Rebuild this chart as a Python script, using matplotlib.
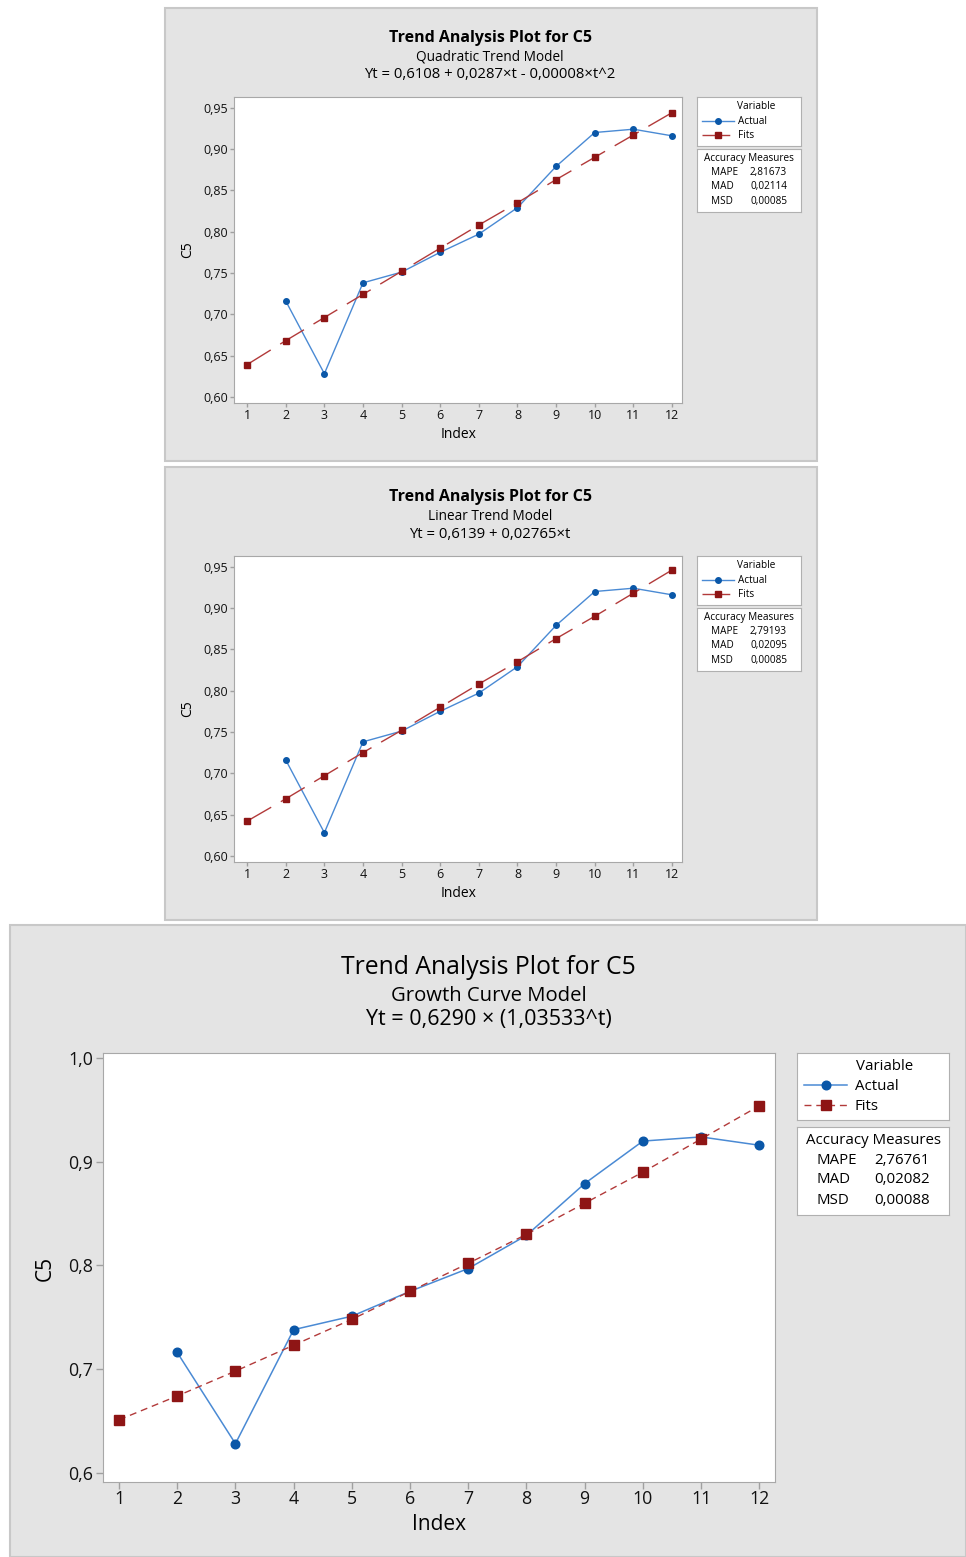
import matplotlib
matplotlib.use('Agg')
import matplotlib.pyplot as plt
from matplotlib.patches import Rectangle
import numpy as np

plt.rcParams['font.family'] = ['Open Sans', 'DejaVu Sans']

W, H = 966, 1557

# data
index = list(range(1, 13))
actual = [np.nan, 0.716, 0.628, 0.738, 0.751, 0.775, 0.797, 0.829, 0.879, 0.920, 0.924, 0.916]
fits_quad = [0.639, 0.668, 0.696, 0.724, 0.752, 0.780, 0.808, 0.835, 0.863, 0.890, 0.917, 0.944]
fits_lin = [0.642, 0.669, 0.697, 0.725, 0.752, 0.780, 0.808, 0.835, 0.863, 0.890, 0.918, 0.946]
fits_growth = [0.651, 0.674, 0.698, 0.723, 0.748, 0.775, 0.802, 0.830, 0.860, 0.890, 0.922, 0.954]

small_yticks = [0.60, 0.65, 0.70, 0.75, 0.80, 0.85, 0.90, 0.95]
small_ylabels = ['0,60', '0,65', '0,70', '0,75', '0,80', '0,85', '0,90', '0,95']
big_yticks = [0.6, 0.7, 0.8, 0.9, 1.0]
big_ylabels = ['0,6', '0,7', '0,8', '0,9', '1,0']

quad_measures = [('MAPE', '2,81673'), ('MAD', '0,02114'), ('MSD', '0,00085')]
lin_measures = [('MAPE', '2,79193'), ('MAD', '0,02095'), ('MSD', '0,00085')]
growth_measures = [('MAPE', '2,76761'), ('MAD', '0,02082'), ('MSD', '0,00088')]

BLUE_LINE = '#4a8ad4'
BLUE_DOT = '#0a57a8'
RED_LINE = '#b23a3a'
RED_SQ = '#8e1515'
GRAY_BG = '#e4e4e4'

fig = plt.figure(figsize=(W / 100, H / 100), dpi=100)


def rect(l, t, r, b):
    # pixel box -> figure fraction
    return [l / W, 1 - b / H, (r - l) / W, (b - t) / H]


def ftext(x, y, s, **kw):
    fig.text(x / W, 1 - y / H, s, ha='center', va='center', **kw)


def panel(bg, plot, leg, acc, ty, xl, yl, fits, sub, eq, measures, big):
    s = 1.55 if big else 1.0
    fig.patches.append(Rectangle((bg[0] / W, 1 - bg[3] / H), (bg[2] - bg[0]) / W,
                                 (bg[3] - bg[1]) / H, transform=fig.transFigure,
                                 fc=GRAY_BG, ec='#c8c8c8', lw=1.5, zorder=-10))
    cx = (plot[0] + plot[2]) / 2 + 32 * s
    ftext(cx, ty[0], 'Trend Analysis Plot for C5', fontsize=17.8 if big else 11.5,
          fontweight='normal' if big else 'bold')
    ftext(cx, ty[1], sub, fontsize=14.6 if big else 9.8)
    ftext(cx, ty[2], eq, fontsize=15.5 if big else 10.7)

    ax = fig.add_axes(rect(*plot))
    ax.set_facecolor('white')
    l1, = ax.plot(index, actual, color=BLUE_LINE, lw=1.1 if big else 1.0, marker='o',
                  ms=4 * s, mfc=BLUE_DOT, mec=BLUE_DOT, label='Actual')
    dash = (0, (5, 3.5)) if big else (0, (20, 8))
    l2, = ax.plot(index, fits, color=RED_LINE, lw=1.0, ls=dash, marker='s',
                  ms=4.6 * s, mfc=RED_SQ, mec=RED_SQ, label='Fits')
    ax.set_xticks(index)
    ax.set_xticklabels([str(i) for i in index])
    if big:
        ax.set_xlim(0.725, 12.27)
        ax.set_ylim(0.591, 1.005)
        ax.set_yticks(big_yticks)
        ax.set_yticklabels(big_ylabels)
        ax.tick_params(labelsize=12.8, length=5, pad=2)
        ax.tick_params(axis='x', pad=0.5)
    else:
        ax.set_xlim(0.66, 12.26)
        ax.set_ylim(0.5925, 0.9630)
        ax.set_yticks(small_yticks)
        ax.set_yticklabels(small_ylabels)
        ax.tick_params(labelsize=9, length=3, pad=1)
    ax.tick_params(color='#a0a0a0', width=1, labelcolor='#111111')
    for sp in ax.spines.values():
        sp.set_color('#a8a8a8')
    ftext(xl[0], xl[1], 'Index', fontsize=15 if big else 10)
    ftext(yl[0], yl[1], 'C5', fontsize=15 if big else 10, rotation=90)

    fs = 10.8 if big else 7.2

    # legend box
    lax = fig.add_axes(rect(*leg))
    lax.set_xticks([])
    lax.set_yticks([])
    for sp in lax.spines.values():
        sp.set_color('#b0b0b0')
    lax.text(0.388, 0.80, 'Variable', transform=lax.transAxes, ha='left', va='center',
             fontsize=fs)
    lax.legend(handles=[l1, l2], labels=['Actual', 'Fits'], loc='upper left',
               bbox_to_anchor=(0.046, 0.61), borderaxespad=0, frameon=False,
               fontsize=fs, handlelength=2.9 if big else 3.2,
               labelspacing=0.32 if big else 0.3, borderpad=0,
               handletextpad=0.5 if big else 0.4)

    # accuracy box
    aax = fig.add_axes(rect(*acc))
    aax.set_xticks([])
    aax.set_yticks([])
    for sp in aax.spines.values():
        sp.set_color('#b0b0b0')
    aax.text(0.5, 0.85, 'Accuracy Measures', transform=aax.transAxes, ha='center',
             va='center', fontsize=fs)
    for (name, val), yy in zip(measures, [0.625, 0.40, 0.17]):
        aax.text(0.13, yy, name, transform=aax.transAxes, ha='left', va='center', fontsize=fs)
        aax.text(0.51, yy, val, transform=aax.transAxes, ha='left', va='center', fontsize=fs)


panel((165, 8, 817, 461), (234, 97, 682, 403), (697, 97, 801, 146), (697, 149, 801, 212),
      (38, 57, 75), (459, 434), (188, 250), fits_quad, 'Quadratic Trend Model',
      'Yt = 0,6108 + 0,0287×t - 0,00008×t^2', quad_measures, False)

panel((165, 467, 817, 920), (234, 556, 682, 862), (697, 556, 801, 605), (697, 608, 801, 671),
      (497, 516, 535), (459, 893), (188, 709), fits_lin, 'Linear Trend Model',
      'Yt = 0,6139 + 0,02765×t', lin_measures, False)

panel((10, 925, 966, 1557), (103, 1053, 775, 1482), (797, 1053, 949, 1120), (797, 1127, 949, 1215),
      (968, 996, 1020), (439, 1525), (45, 1268), fits_growth, 'Growth Curve Model',
      'Yt = 0,6290 × (1,03533^t)', growth_measures, True)

fig.savefig('out.png', dpi=100, facecolor='white')
